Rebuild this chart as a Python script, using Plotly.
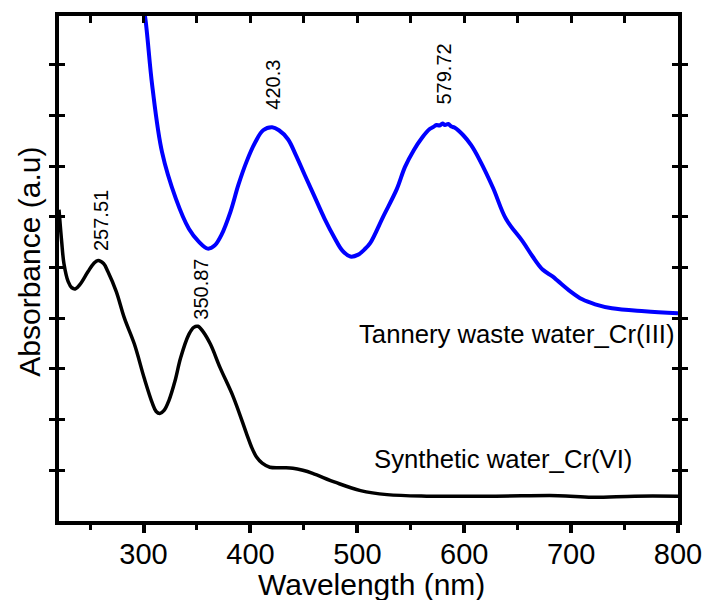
import plotly.graph_objects as go

# ---- data ----
synthetic_nm = [220.9, 223.4, 225.5, 229.5, 232.9, 236.4, 240.4, 248.1, 253.4, 257.5,
                262.6, 266.6, 274.4, 282.1, 291.4, 300.6, 308.3, 311.8, 315.2, 319.2,
                323.8, 329.4, 334.7, 342.4, 347.0, 350.9, 355.5, 362.5, 371.7, 384.1,
                396.4, 400.8, 405.7, 411.0, 418.1, 430.4, 439.7, 449.0, 458.2, 479.8,
                503.0, 527.8, 564.8, 629.7, 688.1, 719.6, 759.5, 800.0]
synthetic_abs = [3.07, 2.755, 2.54, 2.36, 2.30, 2.29, 2.33, 2.46, 2.54, 2.57,
                 2.54, 2.46, 2.265, 2.00, 1.745, 1.41, 1.16, 1.08, 1.06, 1.09,
                 1.19, 1.38, 1.61, 1.84, 1.91, 1.92, 1.87, 1.745, 1.51, 1.22,
                 0.86, 0.735, 0.63, 0.57, 0.53, 0.525, 0.52, 0.50, 0.47, 0.38,
                 0.30, 0.26, 0.245, 0.245, 0.25, 0.235, 0.245, 0.245]

tannery_nm = [298.0, 301.6, 308.1, 317.3, 330.3, 342.4, 351.6, 360.0, 366.5, 373.0,
              381.3, 388.7, 396.2, 404.5, 411.9, 420.3, 426.7, 435.1, 442.5, 450.8,
              460.1, 469.4, 478.6, 486.0, 493.5, 500.9, 506.5, 512.0, 524.1, 537.0,
              544.5, 552.8, 560.2, 567.7, 571.0, 574.0, 577.0, 579.7, 582.0, 585.0,
              588.0, 590.8, 599.1, 606.5, 614.0, 627.0, 639.0, 654.8, 664.0, 673.3,
              682.6, 688.1, 699.3, 710.4, 722.5, 738.2, 768.8, 800.0]
tannery_abs = [5.17, 4.96, 4.294, 3.637, 3.176, 2.882, 2.755, 2.686, 2.716, 2.824,
               3.049, 3.314, 3.539, 3.735, 3.853, 3.882, 3.853, 3.765, 3.608, 3.412,
               3.196, 2.980, 2.794, 2.667, 2.608, 2.627, 2.676, 2.740, 3.00, 3.275,
               3.49, 3.657, 3.775, 3.865, 3.885, 3.905, 3.90, 3.92, 3.905, 3.915,
               3.89, 3.88, 3.804, 3.706, 3.569, 3.284, 2.980, 2.755, 2.608, 2.480,
               2.412, 2.363, 2.265, 2.186, 2.137, 2.098, 2.069, 2.049]

peak_synthetic = [257.51, 350.87]
peak_synthetic_abs = [2.57, 1.92]
peak_tannery = [420.3, 579.72]
peak_tannery_abs = [3.88, 3.92]

x_title = "Wavelength (nm)"
y_title = "Absorbance (a.u)"
label_tannery = "Tannery waste water_Cr(III)"
label_synthetic = "Synthetic water_Cr(VI)"

FONT = "Arial, 'Liberation Sans', sans-serif"

fig = go.Figure()
fig.add_trace(go.Scatter(x=synthetic_nm, y=synthetic_abs, mode="lines",
                         line=dict(color="#000000", width=3.5, shape="spline", smoothing=1.0),
                         showlegend=False, hoverinfo="skip"))
fig.add_trace(go.Scatter(x=tannery_nm, y=tannery_abs, mode="lines",
                         line=dict(color="#0000FF", width=4, shape="spline", smoothing=1.0),
                         showlegend=False, hoverinfo="skip"))
# invisible trace to realise the top (inward-tick) axis
fig.add_trace(go.Scatter(x=[synthetic_nm[0]], y=[synthetic_abs[0]], xaxis="x2", mode="markers",
                         marker=dict(opacity=0), showlegend=False, hoverinfo="skip"))

x_range = [220.9, 800]
fig.update_layout(
    width=714, height=600,
    margin=dict(l=59, r=30, t=13, b=79),
    paper_bgcolor="white", plot_bgcolor="white",
    font=dict(family=FONT, color="black"),
    xaxis=dict(range=x_range, showgrid=False, zeroline=False,
               showline=True, linecolor="black", linewidth=4, mirror=True,
               ticks="outside", ticklen=8, tickwidth=4, tickcolor="black",
               tick0=0, dtick=100, tickfont=dict(size=29, family=FONT),
               ticklabelstandoff=-4,
               minor=dict(ticks="outside", dtick=50, ticklen=5, tickwidth=3, tickcolor="black")),
    xaxis2=dict(range=x_range, overlaying="x", side="top", anchor="y",
                showgrid=False, zeroline=False, showline=False, showticklabels=False,
                ticks="inside", ticklen=7, tickwidth=3, tickcolor="black", tick0=0, dtick=50),
    yaxis=dict(range=[0, 4.98], showgrid=False, zeroline=False,
               showline=True, linecolor="black", linewidth=4, mirror="allticks",
               ticks="inside", ticklen=6, tickwidth=3, tickcolor="black",
               tick0=0, dtick=0.5, showticklabels=False),
)

ann = []
# axis titles
ann.append(dict(text=x_title, xref="paper", yref="paper", x=0.5048, y=-0.126,
                xanchor="center", yanchor="middle", showarrow=False,
                font=dict(size=30, family=FONT, color="black")))
ann.append(dict(text=y_title, xref="paper", yref="paper", x=-0.048, y=0.514,
                xanchor="center", yanchor="middle", textangle=-90, showarrow=False,
                font=dict(size=30, family=FONT, color="black")))
# series labels
ann.append(dict(text=label_tannery, xref="paper", yref="paper", x=0.9856, y=0.370,
                xanchor="right", yanchor="middle", xshift=8, showarrow=False,
                font=dict(size=25.7, family=FONT, color="black")))
ann.append(dict(text=label_synthetic, xref="paper", yref="paper", x=0.9168, y=0.122,
                xanchor="right", yanchor="middle", xshift=8, showarrow=False,
                font=dict(size=25.7, family=FONT, color="black")))
# peak labels
for xs, ys, shifts in [(peak_synthetic, peak_synthetic_abs, [(3, 7), (3, 5)]),
                       (peak_tannery, peak_tannery_abs, [(0, 16), (1, 17)])]:
    for xv, yv, (dx, dy) in zip(xs, ys, shifts):
        ann.append(dict(text=f"{xv:g}", x=xv, y=yv, xref="x", yref="y",
                        xanchor="center", yanchor="bottom", textangle=-90,
                        xshift=dx, yshift=dy, showarrow=False,
                        font=dict(size=20, family=FONT, color="black")))
fig.update_layout(annotations=ann)

fig.write_html("out.html")
